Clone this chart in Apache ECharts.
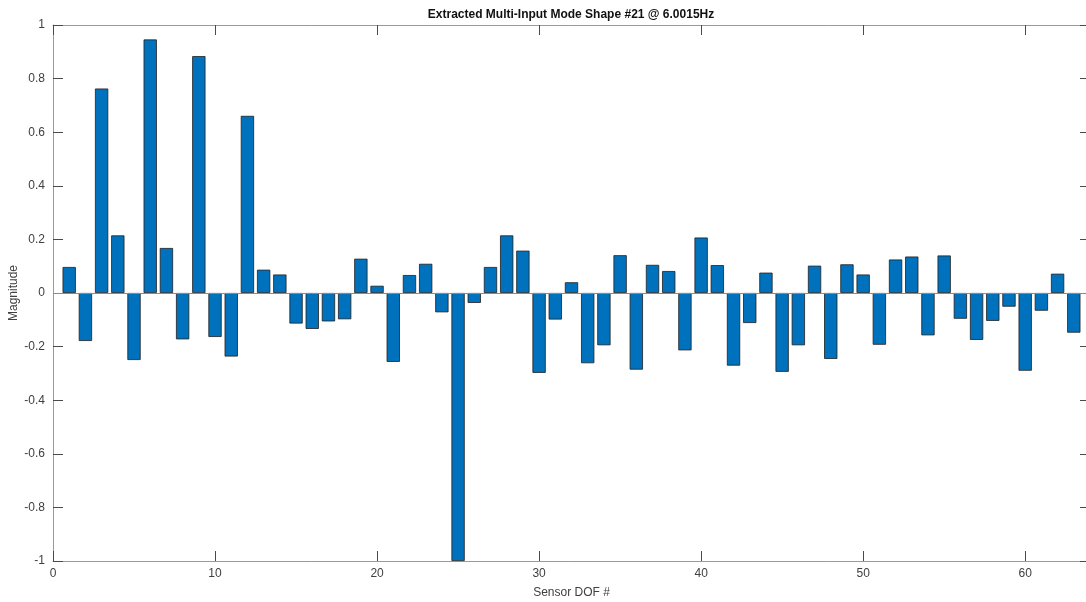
<!DOCTYPE html>
<html>
<head>
<meta charset="utf-8">
<script src="https://cdn.jsdelivr.net/npm/echarts@6/dist/echarts.min.js"></script>
<style>
html,body{margin:0;padding:0;background:#fff;}
#chart{width:1086px;height:602px;}
</style>
</head>
<body>
<div id="chart"></div>
<script>
var sensorDOF = [];
for (var i = 1; i <= 63; i++) sensorDOF.push(i);
var magnitude = [
  0.097, -0.179, 0.763, 0.215, -0.250, 0.946, 0.168, -0.173, 0.884, -0.164,
  -0.237, 0.661, 0.087, 0.069, -0.114, -0.134, -0.106, -0.098, 0.128, 0.027,
  -0.257, 0.067, 0.109, -0.072, -1.000, -0.037, 0.097, 0.215, 0.158, -0.298,
  -0.099, 0.040, -0.262, -0.195, 0.141, -0.286, 0.105, 0.082, -0.214, 0.207,
  0.104, -0.271, -0.112, 0.076, -0.294, -0.195, 0.102, -0.246, 0.107, 0.069,
  -0.193, 0.125, 0.136, -0.158, 0.140, -0.096, -0.175, -0.104, -0.051, -0.290,
  -0.066, 0.072, -0.148
];
var titleText = 'Extracted Multi-Input Mode Shape #21 @ 6.0015Hz';
var xLabel = 'Sensor DOF #';
var yLabel = 'Magnitude';

var seriesData = sensorDOF.map(function (x, i) { return [x, magnitude[i]]; });

var FONT = '"Liberation Sans", Arial, Helvetica, sans-serif';
var axisLineColor = '#9a9a9a';
var tickColor = '#4a4a4a';
var labelColor = '#404040';

var chart = echarts.init(document.getElementById('chart'), null, {renderer: 'canvas'});
chart.setOption({
  animation: false,
  backgroundColor: '#ffffff',
  title: {
    text: titleText,
    left: 571,
    top: 9,
    padding: 0,
    textAlign: 'center',
    textStyle: {fontFamily: FONT, fontSize: 12, fontWeight: 'bold', color: '#111'}
  },
  grid: {left: 53, right: -4, top: 25, bottom: 41, containLabel: false, outerBoundsMode: 'none'},
  xAxis: [{
    type: 'value', min: 0, max: 64, interval: 10, position: 'bottom',
    name: xLabel, nameLocation: 'middle', nameGap: 26, nameMoveOverlap: false,
    nameTextStyle: {fontFamily: FONT, fontSize: 12, color: labelColor},
    axisLine: {show: true, onZero: false, lineStyle: {color: axisLineColor, width: 1}},
    axisTick: {show: true, inside: true, length: 10, lineStyle: {color: tickColor}},
    axisLabel: {fontFamily: FONT, fontSize: 12, color: labelColor, margin: 7, showMaxLabel: false},
    splitLine: {show: false}
  }, {
    type: 'value', min: 0, max: 64, interval: 10, position: 'top',
    axisLine: {show: true, onZero: false, lineStyle: {color: axisLineColor, width: 1}},
    axisTick: {show: true, inside: true, length: 10, lineStyle: {color: tickColor}},
    axisLabel: {show: false},
    splitLine: {show: false}
  }],
  yAxis: [{
    type: 'value', min: -1, max: 1, interval: 0.2, position: 'left',
    name: yLabel, nameLocation: 'middle', nameGap: 33, nameRotate: 90, nameMoveOverlap: false,
    nameTextStyle: {fontFamily: FONT, fontSize: 12, color: labelColor},
    axisLine: {show: true, onZero: false, lineStyle: {color: axisLineColor, width: 1}},
    axisTick: {show: true, inside: true, length: 10, lineStyle: {color: tickColor}},
    axisLabel: {fontFamily: FONT, fontSize: 12, color: labelColor, margin: 8},
    splitLine: {show: false}
  }, {
    type: 'value', min: -1, max: 1, interval: 0.2, position: 'right',
    axisLine: {show: true, onZero: false, lineStyle: {color: axisLineColor, width: 1}},
    axisTick: {show: true, inside: true, length: 10, lineStyle: {color: tickColor}},
    axisLabel: {show: false},
    splitLine: {show: false}
  }],
  series: [{
    type: 'bar',
    xAxisIndex: 0,
    yAxisIndex: 0,
    data: seriesData,
    barWidth: '82%',
    itemStyle: {color: '#0072BD', borderColor: '#1f1f1f', borderWidth: 0.8},
    markLine: {
      silent: true,
      symbol: 'none',
      label: {show: false},
      lineStyle: {color: '#8a8a8a', type: 'solid', width: 1},
      data: [{yAxis: 0}]
    }
  }]
});
</script>
</body>
</html>
